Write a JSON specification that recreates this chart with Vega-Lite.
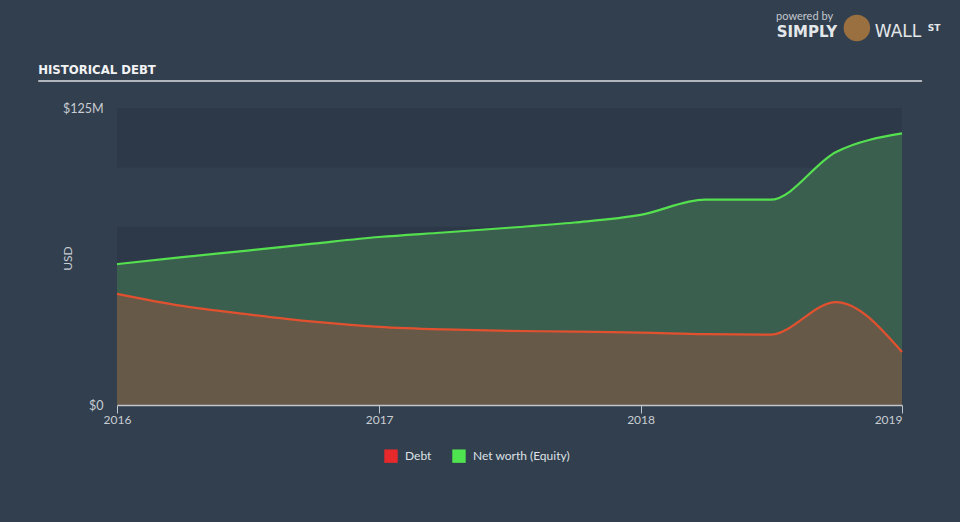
{
  "$schema": "https://vega.github.io/schema/vega-lite/v6.json",
  "width": 785,
  "height": 297,
  "autosize": {"type": "none"},
  "padding": {"left": 117, "top": 108, "right": 58, "bottom": 117},
  "background": "#323f4e",
  "config": {"view": {"stroke": null}, "font": "Lato"},
  "datasets": {
    "series": [
      {"date": "2016/01/01", "debt": 46.8, "equity": 59.3},
      {"date": "2016/04/01", "debt": 41.7, "equity": 62.2},
      {"date": "2016/07/01", "debt": 38.2, "equity": 65.0},
      {"date": "2016/10/01", "debt": 35.1, "equity": 67.9},
      {"date": "2017/01/01", "debt": 32.9, "equity": 70.7},
      {"date": "2017/04/01", "debt": 31.8, "equity": 72.6},
      {"date": "2017/07/01", "debt": 31.2, "equity": 74.6},
      {"date": "2017/10/01", "debt": 30.9, "equity": 76.8},
      {"date": "2018/01/01", "debt": 30.5, "equity": 80.0},
      {"date": "2018/04/01", "debt": 29.8, "equity": 86.4},
      {"date": "2018/07/01", "debt": 29.6, "equity": 86.4},
      {"date": "2018/10/01", "debt": 43.3, "equity": 106.5},
      {"date": "2019/01/01", "debt": 22.3, "equity": 114.3}
    ],
    "bands": [
      {"lo": 100, "hi": 125},
      {"lo": 50, "hi": 75},
      {"lo": 0, "hi": 25}
    ]
  },
  "layer": [
    {
      "data": {"name": "bands"},
      "mark": {"type": "rect", "color": "#2d3948"},
      "encoding": {
        "x": {"datum": {"year": 2016, "month": 1, "date": 1}, "type": "temporal", "scale": {"domain": [{"year": 2016, "month": 1, "date": 1}, {"year": 2019, "month": 1, "date": 1}], "nice": false}},
        "x2": {"datum": {"year": 2019, "month": 1, "date": 1}},
        "y": {"field": "lo", "type": "quantitative", "scale": {"domain": [0, 125], "nice": false}},
        "y2": {"field": "hi"}
      }
    },
    {
      "data": {"values": [{"d0": "2015/09/13", "d1": "2019/01/29", "v": 136.4}]},
      "mark": {"type": "rule", "color": "#b0b6bc", "strokeWidth": 2},
      "encoding": {
        "x": {"field": "d0", "type": "temporal", "scale": {"domain": [{"year": 2016, "month": 1, "date": 1}, {"year": 2019, "month": 1, "date": 1}], "nice": false}},
        "x2": {"field": "d1"},
        "y": {"field": "v", "type": "quantitative", "scale": {"domain": [0, 125], "nice": false}}
      }
    },
    {
      "data": {"values": [{"d": "2015/09/13", "v": 139.5, "t": "HISTORICAL DEBT"}]},
      "mark": {"type": "text", "align": "left", "baseline": "alphabetic", "font": "DejaVu Sans Condensed, Roboto, sans-serif", "fontSize": 13, "fontWeight": "bold", "color": "#f2f3f5"},
      "encoding": {
        "x": {"field": "d", "type": "temporal"},
        "y": {"field": "v", "type": "quantitative", "scale": {"domain": [0, 125], "nice": false}},
        "text": {"field": "t"}
      }
    },
    {
      "data": {"name": "series"},
      "mark": {"type": "area", "interpolate": "monotone", "color": "#3a5f4f"},
      "encoding": {
        "x": {"field": "date", "type": "temporal", "scale": {"domain": [{"year": 2016, "month": 1, "date": 1}, {"year": 2019, "month": 1, "date": 1}], "nice": false},
          "axis": {
            "values": [{"year": 2016, "month": 1, "date": 1}, {"year": 2017, "month": 1, "date": 1}, {"year": 2018, "month": 1, "date": 1}, {"year": 2019, "month": 1, "date": 1}],
            "format": "%Y",
            "title": null,
            "grid": false,
            "labelColor": "#c8cdd3",
            "labelFontSize": 12,
            "labelFont": "Lato",
            "tickColor": "#c0c6cc",
            "domainColor": "#c0c6cc",
            "domainWidth": 1.5,
            "tickSize": 8,
            "labelPadding": 1,
            "labelFlush": false,
            "labelBaseline": "top",
            "labelAlign": {"condition": {"test": "year(datum.value) == 2019", "value": "right"}, "value": "center"},
            "zindex": 1
          }
        },
        "y": {"field": "equity", "type": "quantitative", "scale": {"domain": [0, 125], "nice": false},
          "axis": {
            "values": [0, 125],
            "labelExpr": "datum.value == 0 ? '$0' : '$125M'",
            "domain": false,
            "ticks": false,
            "grid": false,
            "labelPadding": 14,
            "labelFlush": false,
            "labelColor": "#c8cdd3",
            "labelFontSize": 12.5,
            "labelFont": "Lato",
            "title": "USD",
            "titleColor": "#c8cdd3",
            "titleFont": "Lato",
            "titleFontSize": 12,
            "titleFontWeight": "normal",
            "titleAngle": -90,
            "titleX": -50,
            "titleY": 150,
            "titleAlign": "center",
            "titleBaseline": "middle"
          }
        }
      }
    },
    {
      "data": {"name": "series"},
      "mark": {"type": "area", "interpolate": "monotone", "color": "#665947"},
      "encoding": {
        "x": {"field": "date", "type": "temporal"},
        "y": {"field": "debt", "type": "quantitative", "scale": {"domain": [0, 125], "nice": false}}
      }
    },
    {
      "data": {"name": "series"},
      "transform": [{"fold": ["debt", "equity"], "as": ["series", "value"]}],
      "mark": {"type": "line", "interpolate": "monotone", "strokeWidth": 2.2},
      "encoding": {
        "x": {"field": "date", "type": "temporal"},
        "y": {"field": "value", "type": "quantitative", "scale": {"domain": [0, 125], "nice": false}},
        "color": {
          "field": "series",
          "type": "nominal",
          "scale": {"domain": ["debt", "equity"], "range": ["#e2512f", "#55e04f"]},
          "legend": {
            "orient": "none",
            "legendX": 267,
            "legendY": 341,
            "direction": "horizontal",
            "title": null,
            "padding": 0,
            "symbolType": "square",
            "symbolSize": 180,
            "symbolStrokeWidth": 0,
            "labelColor": "#dde1e5",
            "labelFontSize": 12,
            "labelFont": "Lato",
            "labelOffset": 7,
            "columnPadding": 20,
            "labelExpr": "datum.label == 'debt' ? 'Debt' : 'Net worth (Equity)'",
            "encode": {
              "symbols": {
                "update": {
                  "fill": [{"test": "datum.value == 'debt'", "value": "#e8292b"}, {"value": "#4fe34f"}],
                  "stroke": {"value": "transparent"},
                  "opacity": {"value": 1}
                }
              }
            }
          }
        }
      }
    },
    {
      "data": {"values": [{"d": "2018/08/18", "v": 163.1, "t": "powered by"}]},
      "mark": {"type": "text", "align": "center", "baseline": "middle", "font": "Lato", "fontSize": 11, "color": "#c3c8ce"},
      "encoding": {
        "x": {"field": "d", "type": "temporal"},
        "y": {"field": "v", "type": "quantitative", "scale": {"domain": [0, 125], "nice": false}},
        "text": {"field": "t"}
      }
    },
    {
      "data": {"values": [{"d": "2018/07/10", "v": 157.0, "t": "SIMPLY"}]},
      "mark": {"type": "text", "align": "left", "baseline": "middle", "font": "DejaVu Sans", "fontWeight": "bold", "fontSize": 15, "color": "#e4e7ea"},
      "encoding": {
        "x": {"field": "d", "type": "temporal"},
        "y": {"field": "v", "type": "quantitative", "scale": {"domain": [0, 125], "nice": false}},
        "text": {"field": "t"}
      }
    },
    {
      "data": {"values": [{"d": "2018/10/30", "v": 158.7}]},
      "mark": {"type": "point", "shape": "circle", "filled": true, "size": 700, "color": "#9a7040", "opacity": 1},
      "encoding": {
        "x": {"field": "d", "type": "temporal"},
        "y": {"field": "v", "type": "quantitative", "scale": {"domain": [0, 125], "nice": false}}
      }
    },
    {
      "data": {"values": [{"d": "2018/11/24", "v": 157.0, "t": "WALL"}]},
      "mark": {"type": "text", "align": "left", "baseline": "middle", "font": "DejaVu Sans", "fontSize": 17, "color": "#e4e7ea"},
      "encoding": {
        "x": {"field": "d", "type": "temporal"},
        "y": {"field": "v", "type": "quantitative", "scale": {"domain": [0, 125], "nice": false}},
        "text": {"field": "t"}
      }
    },
    {
      "data": {"values": [{"d": "2019/02/06", "v": 158.6, "t": "ST"}]},
      "mark": {"type": "text", "align": "left", "baseline": "middle", "font": "DejaVu Sans", "fontWeight": "bold", "fontSize": 9, "color": "#e4e7ea"},
      "encoding": {
        "x": {"field": "d", "type": "temporal"},
        "y": {"field": "v", "type": "quantitative", "scale": {"domain": [0, 125], "nice": false}},
        "text": {"field": "t"}
      }
    }
  ]
}
